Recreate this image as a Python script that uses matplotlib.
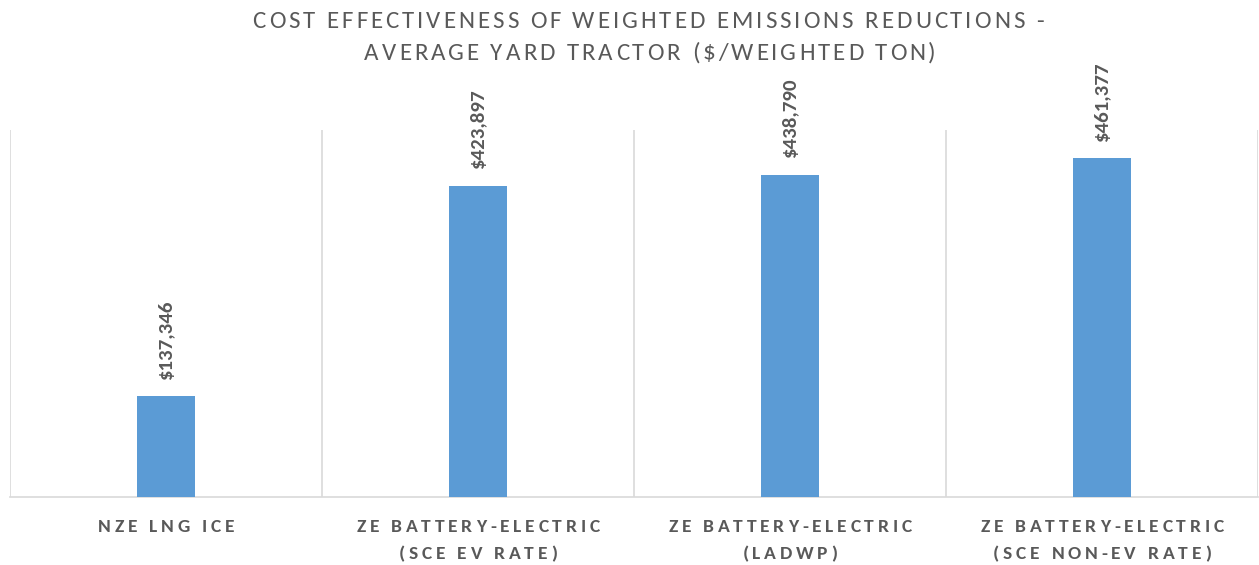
import matplotlib
matplotlib.use("Agg")
import matplotlib.pyplot as plt
import numpy as np

categories = [
    "NZE LNG ICE",
    "ZE BATTERY-ELECTRIC\n(SCE EV RATE)",
    "ZE BATTERY-ELECTRIC\n(LADWP)",
    "ZE BATTERY-ELECTRIC\n(SCE NON-EV RATE)",
]
values = [137346, 423897, 438790, 461377]
value_labels = ["$137,346", "$423,897", "$438,790", "$461,377"]
title_lines = ["COST EFFECTIVENESS OF WEIGHTED EMISSIONS REDUCTIONS -",
               "AVERAGE YARD TRACTOR ($/WEIGHTED TON)"]

BAR_COLOR = "#5B9BD5"
TEXT_COLOR = "#595959"
GRID_COLOR = "#D9D9D9"
FONT = ["Carlito", "DejaVu Sans"]

W, H = 1259, 565
fig = plt.figure(figsize=(W / 100, H / 100), dpi=100)
renderer = fig.canvas.get_renderer()

ax = fig.add_axes([10 / W, 68 / H, 1248 / W, 367 / H])
x = np.arange(len(categories))
ax.bar(x, values, width=0.183, color=BAR_COLOR, zorder=3)
ax.set_xlim(-0.5, len(categories) - 0.5)
ax.set_ylim(0, 500000)

# category separators
for b in np.arange(-0.5, len(categories), 1.0):
    ax.axvline(b, color=GRID_COLOR, lw=1.2, zorder=1)
for s in ["top", "right", "left"]:
    ax.spines[s].set_visible(False)
ax.spines["bottom"].set_color(GRID_COLOR)
ax.spines["bottom"].set_linewidth(1.2)
ax.set_yticks([])
ax.set_xticks([])

# value labels above bars
for xi, v, lab in zip(x, values, value_labels):
    ax.annotate(lab, (xi, v), xytext=(0, 12), textcoords="offset points",
                rotation=90, ha="center", va="bottom", fontsize=15,
                fontweight="bold", color=TEXT_COLOR, family=FONT)


# letter-spaced text helpers (pixel coordinates, y measured from the top)
def text_width(s, props):
    t = fig.text(0, 0, s, **props)
    w = t.get_window_extent(renderer).width
    t.remove()
    return w


def advances(s, props):
    base = text_width("||", props)
    return [text_width("|" + c + "|", props) - base for c in s]


def tracking_for(s, width_px, props):
    adv = advances(s, props)
    return (width_px - sum(adv)) / (len(s) - 1)


def spaced_text(s, cx, baseline, tracking, props):
    adv = advances(s, props)
    total = sum(adv) + tracking * (len(s) - 1)
    xpos = cx - total / 2
    for c, a in zip(s, adv):
        if c != " ":
            fig.text(xpos / W, 1 - baseline / H, c, ha="left", va="baseline", **props)
        xpos += a + tracking


title_props = dict(fontsize=18, color=TEXT_COLOR, family=FONT)
title_track = tracking_for(title_lines[0], 791, title_props)
spaced_text(title_lines[0], 648, 28, title_track, title_props)
spaced_text(title_lines[1], 650, 60, title_track, title_props)

tick_props = dict(fontsize=14, fontweight="bold", color=TEXT_COLOR, family=FONT)
tick_track = tracking_for("ZE BATTERY-ELECTRIC", 243, tick_props)
fig.canvas.draw()
for xi, cat in zip(x, categories):
    cx = ax.transData.transform((xi, 0))[0]
    for k, line in enumerate(cat.split("\n")):
        spaced_text(line, cx, 532 + 27 * k, tick_track, tick_props)

fig.savefig("out.png", dpi=100, facecolor="white")
